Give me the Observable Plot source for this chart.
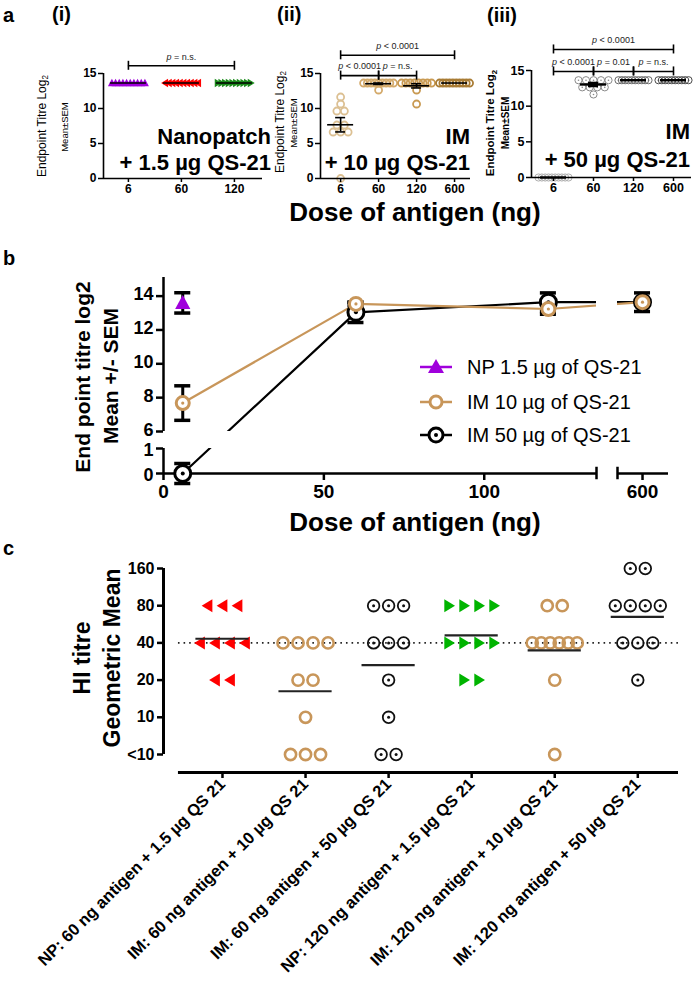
<!DOCTYPE html>
<html><head><meta charset="utf-8">
<script src="https://cdn.jsdelivr.net/npm/d3@7"></script>
<script src="https://cdn.jsdelivr.net/npm/@observablehq/plot@0.6"></script>
<style>
html,body{margin:0;padding:0;background:#fff;}
#root{position:relative;width:697px;height:985px;overflow:hidden;font-family:"Liberation Sans",Arial,Helvetica,sans-serif;color:#000;}
#root svg{position:absolute;left:0;top:0;}
.t{position:absolute;white-space:nowrap;line-height:1;}
sub{font-size:68%;vertical-align:-0.3em;line-height:0;}
</style></head><body><div id="root"></div>
<script>
// ---------------- Panel a data (Endpoint titre log2, individual animals) ----------------
const doseCatsNP = ["6", "60", "120"];
const doseCatsIM = ["6", "60", "120", "600"];
const np_6   = [13.64,13.64,13.64,13.64,13.64,13.64,13.64,13.64,13.64,13.64];
const np_60  = [13.64,13.64,13.64,13.64,13.64,13.64,13.64,13.64,13.64,13.64];
const np_120 = [13.64,13.64,13.64,13.64,13.64,13.64,13.64,13.64,13.64,13.64];
const im10_6   = [11.64,10.64,9.64,9.64,7.64,7.64,6.64,6.64,6.64,0];
const im10_60  = [13.64,13.64,13.64,13.64,13.64,13.64,13.64,13.64,13.64,12.64];
const im10_120 = [13.64,13.64,13.64,13.64,13.64,13.64,13.64,13.64,12.64,10.64];
const im10_600 = [13.64,13.64,13.64,13.64,13.64,13.64,13.64,13.64,13.64,13.64];
const im50_6   = [0,0,0,0,0,0,0,0,0,0];
const im50_60  = [13.64,13.64,13.64,13.64,13.64,12.64,12.64,12.64,12.64,11.64];
const im50_120 = [13.64,13.64,13.64,13.64,13.64,13.64,13.64,13.64,13.64,13.64];
const im50_600 = [13.64,13.64,13.64,13.64,13.64,13.64,13.64,13.64,13.64,13.64];
const pLabels_i   = ["p = n.s."];
const pLabels_ii  = ["p < 0.0001", "p < 0.0001", "p = n.s."];
const pLabels_iii = ["p < 0.0001", "p < 0.0001", "p = 0.01", "p = n.s."];

// ---------------- Panel b data (mean +/- SEM) ----------------
const doseB = [6, 60, 120, 600];
const npDoseB = [6];
const npMeanB = [13.6];
const npSemB = [0.6];
const im10MeanB = [7.68, 13.54, 13.24, 13.64];
const im10SemB  = [1.02, 0.1, 0.31, 0.05];
const im50MeanB = [0, 13.04, 13.64, 13.64];
const im50SemB  = [0.4, 0.6, 0.55, 0.55];
const legendB = ["NP 1.5 \u00b5g of QS-21", "IM 10 \u00b5g of QS-21", "IM 50 \u00b5g of QS-21"];
const xTicksB = [0, 50, 100, 600];
const yTicksBUpper = [6, 8, 10, 12, 14];
const yTicksBLower = [0, 1];

// ---------------- Panel c data (HI titre; 5 = "<10") ----------------
const groupsC = [
  "NP: 60 ng antigen + 1.5 \u00b5g QS 21",
  "IM: 60 ng antigen + 10 \u00b5g QS 21",
  "IM: 60 ng antigen + 50 \u00b5g QS 21",
  "NP: 120 ng antigen + 1.5 \u00b5g QS 21",
  "IM: 120 ng antigen + 10 \u00b5g QS 21",
  "IM: 120 ng antigen + 50 \u00b5g QS 21"
];
const hiTicks = [5, 10, 20, 40, 80, 160];
const hiTickLabels = ["<10", "10", "20", "40", "80", "160"];
const hi_np60    = [80,80,80,40,40,40,40,20,20];
const hi_im10_60 = [40,40,40,40,20,20,10,5,5,5];
const hi_im50_60 = [80,80,80,40,40,40,20,10,5,5];
const hi_np120   = [80,80,80,80,40,40,40,40,20,20];
const hi_im10_120= [80,80,40,40,40,40,40,40,20,5];
const hi_im50_120= [160,160,80,80,80,80,40,40,40,20];
const hiRef = [40];

// ---------------- helpers ----------------
const W = 697, H = 985;
const FONT = '"Liberation Sans", Arial, Helvetica, sans-serif';
const root = document.getElementById("root");
const PURPLE = "#a000dc", RED = "#ff0000", GREEN_A = "#1c8c1c", GREEN_C = "#00b400", TAN = "#c8965a";

const upTri = {draw(c, s) { const r = Math.sqrt(s / Math.PI); c.moveTo(0, -r); c.lineTo(r * 0.95, r * 0.75); c.lineTo(-r * 0.95, r * 0.75); c.closePath(); }};
const leftTri = {draw(c, s) { const r = Math.sqrt(s / Math.PI); c.moveTo(-r * 0.9, 0); c.lineTo(r * 0.75, -r); c.lineTo(r * 0.75, r); c.closePath(); }};
const rightTri = {draw(c, s) { const r = Math.sqrt(s / Math.PI); c.moveTo(r * 0.9, 0); c.lineTo(-r * 0.75, -r); c.lineTo(-r * 0.75, r); c.closePath(); }};

// horizontal spreading of equal values (scatter-dot layout)
function swarm(values, sp, maxW) {
  const out = [];
  for (const [v, arr] of d3.group(values, d => d)) {
    const n = arr.length;
    const s = n > 1 ? Math.min(sp, maxW / (n - 1)) : 0;
    arr.forEach((_, j) => out.push({v, off: (j - (n - 1) / 2) * s}));
  }
  return out;
}

function label(html, x, y, o = {}) {
  const d = document.createElement("div");
  d.className = "t";
  d.innerHTML = html;
  d.style.left = x + "px";
  d.style.top = y + "px";
  d.style.fontSize = (o.size || 12) + "px";
  d.style.fontWeight = o.bold === false ? "normal" : "bold";
  const ax = o.anchor === "end" ? "-100%" : o.anchor === "middle" ? "-50%" : "0";
  d.style.transform = o.rotate ? "translate(-50%,-50%) rotate(-90deg)" : `translate(${ax},-50%)`;
  root.appendChild(d);
  return d;
}

function italicP(svg) {
  d3.select(svg).selectAll("text").each(function () {
    const t = this.textContent;
    if (/^p [<=]/.test(t)) {
      this.textContent = "";
      d3.select(this).append("tspan").attr("font-style", "italic").text("p");
      d3.select(this).append("tspan").text(t.slice(1));
    }
  });
}

const baseStyle = {background: "none", fontFamily: FONT, overflow: "visible"};

// ---------------- Panel a ----------------
function panelA(cfg) {
  const ppu = (cfg.xr[1] - cfg.xr[0]) / (cfg.xd[1] - cfg.xd[0]);
  const yppu = (cfg.yr[0] - cfg.yr[1]) / 15;
  const marks = [];
  const stats = [];
  cfg.series.forEach((s, i) => {
    const pts = swarm(s.values, cfg.sp, cfg.maxW).map(p => ({x: i + p.off / ppu, y: p.v}));
    marks.push(Plot.dot(pts, {x: "x", y: "y", r: cfg.r, symbol: s.symbol || "circle",
      fill: s.fill || "none", stroke: s.stroke || "none", strokeWidth: cfg.sw}));
    if (s.centerDot) marks.push(Plot.dot(pts, {x: "x", y: "y", r: 0.8, fill: s.stroke}));
    const n = s.values.length;
    stats.push({i, m: d3.mean(s.values), sem: d3.deviation(s.values) / Math.sqrt(n)});
  });
  const mh = cfg.meanHalf / ppu, ch = cfg.capHalf / ppu;
  marks.push(Plot.ruleY(stats, {y: "m", x1: d => d.i - mh, x2: d => d.i + mh, strokeWidth: cfg.lw}));
  const withErr = stats.filter(d => d.sem > 0.05);
  marks.push(Plot.ruleX(withErr, {x: "i", y1: d => d.m - d.sem, y2: d => d.m + d.sem, strokeWidth: cfg.lw}));
  marks.push(Plot.ruleY(withErr.flatMap(d => [{i: d.i, y: d.m - d.sem}, {i: d.i, y: d.m + d.sem}]),
    {y: "y", x1: d => d.i - ch, x2: d => d.i + ch, strokeWidth: cfg.lw}));
  const tk = 4.5 / yppu;
  marks.push(Plot.ruleY(cfg.comps, {y: "lev", x1: "a", x2: "b", strokeWidth: 1.6}));
  marks.push(Plot.ruleX(cfg.comps.flatMap(d => [{x: d.a, lev: d.lev}, {x: d.b, lev: d.lev}]),
    {x: "x", y1: d => d.lev - tk, y2: d => d.lev + tk, strokeWidth: 1.6}));
  marks.push(Plot.text(cfg.comps, {x: d => (d.a + d.b) / 2, y: "lev", text: "label", dy: -9, fontSize: 9, fontWeight: "normal", fill: "#222"}));
  marks.push(Plot.ruleX([cfg.xd[0]], {strokeWidth: 1.6}), Plot.ruleY([0], {strokeWidth: 1.6}));
  marks.push(Plot.axisY({ticks: [0, 5, 10, 15], tickSize: 5, tickPadding: 2, fontSize: cfg.fs, fontWeight: "bold", strokeWidth: 1.5, label: null}));
  marks.push(Plot.axisX({ticks: d3.range(cfg.cats.length), tickFormat: i => cfg.cats[i], tickSize: 4, tickPadding: 2,
    fontSize: cfg.fs, fontWeight: "bold", strokeWidth: 1.5, label: null}));
  const svg = Plot.plot({
    width: W, height: H,
    marginLeft: cfg.xr[0], marginRight: W - cfg.xr[1], marginTop: cfg.yr[1], marginBottom: H - cfg.yr[0],
    x: {domain: cfg.xd, label: null}, y: {domain: [0, 15], label: null},
    style: baseStyle, marks
  });
  italicP(svg);
  root.appendChild(svg);
}

panelA({
  cats: doseCatsNP, xr: [103, 262], xd: [-0.47, 2.53], yr: [178, 73],
  r: 4.2, sw: 1, sp: 7.5, maxW: 33, meanHalf: 18, capHalf: 6, lw: 1.6, fs: 12,
  series: [
    {values: np_6, symbol: upTri, fill: PURPLE},
    {values: np_60, symbol: leftTri, fill: RED},
    {values: np_120, symbol: rightTri, fill: GREEN_A}
  ],
  comps: [{a: 0, b: 2, lev: 16.1, label: pLabels_i[0]}]
});

panelA({
  cats: doseCatsIM, xr: [320, 470], xd: [-0.53, 3.42], yr: [178, 73],
  r: 3.5, sw: 1.8, sp: 7.5, maxW: 30, meanHalf: 13, capHalf: 5, lw: 1.6, fs: 12,
  series: [
    {values: im10_6, stroke: "#dcc093"},
    {values: im10_60, stroke: "#d4aa6b"},
    {values: im10_120, stroke: "#c99a52"},
    {values: im10_600, stroke: "#a97c34"}
  ],
  comps: [
    {a: 0, b: 3, lev: 17.6, label: pLabels_ii[0]},
    {a: 0, b: 1, lev: 14.7, label: pLabels_ii[1]},
    {a: 1, b: 2, lev: 14.7, label: pLabels_ii[2]}
  ]
});

panelA({
  cats: doseCatsIM, xr: [531, 691], xd: [-0.55, 3.45], yr: [177, 70],
  r: 3.6, sw: 1, sp: 7.5, maxW: 30, meanHalf: 13, capHalf: 5, lw: 2.4, fs: 12.5,
  series: [
    {values: im50_6, stroke: "#b0b0b0", centerDot: true},
    {values: im50_60, stroke: "#8a8a8a", centerDot: true},
    {values: im50_120, stroke: "#6a6a6a", centerDot: true},
    {values: im50_600, stroke: "#4a4a4a", centerDot: true}
  ],
  comps: [
    {a: 0, b: 3, lev: 17.95, label: pLabels_iii[0]},
    {a: 0, b: 1, lev: 14.87, label: pLabels_iii[1]},
    {a: 1, b: 2, lev: 14.87, label: pLabels_iii[2]},
    {a: 2, b: 3, lev: 14.87, label: pLabels_iii[3]}
  ]
});

// ---------------- Panel b (broken axes via piecewise scales) ----------------
{
  const xB = {domain: [0, 135, 592.2, 608.1], range: [163, 596, 617, 668]};
  const yB = {domain: [0, 1, 6, 15.1], range: [473, 448, 431, 277]};
  const xBreak = [135, 592.2], yBreak = [1, 6];
  const im10 = doseB.map((d, i) => ({x: d, y: im10MeanB[i], s: im10SemB[i]}));
  const im50 = doseB.map((d, i) => ({x: d, y: im50MeanB[i], s: im50SemB[i]}));
  const np = npDoseB.map((d, i) => ({x: d, y: npMeanB[i], s: npSemB[i]}));
  const capH = 8 / 3.2;
  const err = (data, color) => [
    Plot.ruleX(data, {x: "x", y1: d => d.y - d.s, y2: d => d.y + d.s, stroke: color, strokeWidth: 3}),
    Plot.ruleY(data.flatMap(d => [{x: d.x, y: d.y - d.s}, {x: d.x, y: d.y + d.s}]),
      {y: "y", x1: d => d.x - capH, x2: d => d.x + capH, stroke: color, strokeWidth: 3.5})
  ];
  const svg = Plot.plot({
    width: W, height: H, marginLeft: 163, marginRight: W - 668, marginTop: 277, marginBottom: H - 473,
    x: {type: "linear", domain: xB.domain, range: xB.range, label: null},
    y: {type: "linear", domain: yB.domain, range: yB.range, label: null},
    style: baseStyle,
    marks: [
      Plot.line(im50, {x: "x", y: "y", stroke: "#000", strokeWidth: 2.2}),
      Plot.line(im10, {x: "x", y: "y", stroke: TAN, strokeWidth: 2.2}),
      Plot.rect([{x1: xBreak[0], x2: xBreak[1], y1: -1, y2: 15.1}], {x1: "x1", x2: "x2", y1: "y1", y2: "y2", fill: "white"}),
      Plot.rect([{x1: 0, x2: 608.1, y1: yBreak[0], y2: yBreak[1]}], {x1: "x1", x2: "x2", y1: "y1", y2: "y2", fill: "white"}),
      Plot.ruleX([0], {y1: 6, y2: 15.1, strokeWidth: 2.5}),
      Plot.ruleX([0], {y1: 0, y2: 1, strokeWidth: 2.5}),
      Plot.ruleY([0], {x1: 0, x2: xBreak[0], strokeWidth: 2.5}),
      Plot.ruleY([0], {x1: xBreak[1], x2: 608.1, strokeWidth: 2.5}),
      Plot.ruleX(xBreak, {y1: -0.25, y2: 0.25, strokeWidth: 2.5}),
      Plot.axisY({ticks: [...yTicksBLower, ...yTicksBUpper], tickSize: 7, text: null, strokeWidth: 2.5, label: null}),
      Plot.axisY({ticks: yTicksBUpper, tickSize: 0, tickPadding: 10, dy: -1.5, fontSize: 18, fontWeight: "bold", label: null}),
      Plot.axisY({ticks: yTicksBLower, tickSize: 0, tickPadding: 10, dy: 1.5, fontSize: 18, fontWeight: "bold", label: null}),
      Plot.axisX({ticks: xTicksB, tickSize: 7, tickPadding: 4, fontSize: 19, fontWeight: "bold", strokeWidth: 2.5, label: null}),
      ...err(im50, "#000"),
      ...err(im10, "#000"),
      ...err(np, "#000"),
      Plot.dot(im50, {x: "x", y: "y", r: 8, fill: "white", stroke: "#000", strokeWidth: 3}),
      Plot.dot(im50, {x: "x", y: "y", r: 2, fill: "#000"}),
      Plot.dot(im10, {x: "x", y: "y", r: 6.5, fill: "white", stroke: TAN, strokeWidth: 3}),
      Plot.dot(im10, {x: "x", y: "y", r: 1.6, fill: TAN}),
      Plot.dot(np, {x: "x", y: "y", r: 8, symbol: upTri, fill: PURPLE})
    ]
  });
  root.appendChild(svg);
}

// ---------------- Panel c ----------------
{
  const cXd = [-0.71, 5.49];
  const ppu = (678 - 163) / (cXd[1] - cXd[0]);
  const pxPerDoubling = (754 - 568) / 5;
  const baseY = 5 * Math.pow(2, -(772 - 754) / pxPerDoubling);
  const groups = [
    {values: hi_np60, kind: "left"},
    {values: hi_im10_60, kind: "tan"},
    {values: hi_im50_60, kind: "dot"},
    {values: hi_np120, kind: "right"},
    {values: hi_im10_120, kind: "tan"},
    {values: hi_im50_120, kind: "dot"}
  ];
  const marks = [
    Plot.ruleY(hiRef, {x1: -0.53, x2: 5.49, strokeDasharray: "1.6 4", strokeWidth: 1.7, stroke: "#222"})
  ];
  const gm = [];
  groups.forEach((g, i) => {
    const pts = swarm(g.values, 15, 45).map(p => ({x: i + p.off / ppu, y: p.v}));
    if (g.kind === "left") marks.push(Plot.dot(pts, {x: "x", y: "y", r: 6.5, symbol: leftTri, fill: RED}));
    if (g.kind === "right") marks.push(Plot.dot(pts, {x: "x", y: "y", r: 6.5, symbol: rightTri, fill: GREEN_C}));
    if (g.kind === "tan") marks.push(Plot.dot(pts, {x: "x", y: "y", r: 5.6, fill: "none", stroke: TAN, strokeWidth: 2.6}));
    if (g.kind === "dot") marks.push(
      Plot.dot(pts, {x: "x", y: "y", r: 5.8, fill: "none", stroke: "#111", strokeWidth: 1.8}),
      Plot.dot(pts, {x: "x", y: "y", r: 1.5, fill: "#111"}));
    gm.push({i, g: Math.pow(2, d3.mean(g.values, v => Math.log2(v)))});
  });
  marks.push(Plot.ruleY(gm, {y: "g", x1: d => d.i - 0.32, x2: d => d.i + 0.32, strokeWidth: 2.2, stroke: "#222"}));
  marks.push(
    Plot.ruleX([cXd[0]], {y1: 5, y2: 160, strokeWidth: 3}),
    Plot.ruleY([baseY], {x1: -0.53, x2: 5.49, strokeWidth: 3}),
    Plot.axisY({ticks: hiTicks, tickFormat: d => hiTickLabels[hiTicks.indexOf(d)], tickSize: 6, tickPadding: 3,
      fontSize: 16, fontWeight: "bold", strokeWidth: 2.5, label: null}),
    Plot.axisX({ticks: d3.range(groupsC.length), tickFormat: i => groupsC[i], tickRotate: -45, tickSize: 6, tickPadding: 3,
      fontSize: 16.5, fontWeight: "bold", strokeWidth: 2.5, label: null})
  );
  const svg = Plot.plot({
    width: W, height: H, marginLeft: 163, marginRight: W - 678, marginTop: 560, marginBottom: H - 772,
    x: {domain: cXd, label: null},
    y: {type: "log", base: 2, domain: [5, 160], range: [754, 568], label: null},
    style: baseStyle, marks
  });
  root.appendChild(svg);
}

// ---------------- text labels ----------------
label("a", 3, 15, {size: 20});
label("(i)", 52, 14, {size: 20});
label("(ii)", 277, 14, {size: 20});
label("(iii)", 487, 15, {size: 20});
label("Endpoint Titre Log<sub>2</sub>", 42, 126, {size: 12, bold: false, rotate: true});
label("Mean\u00b1SEM", 65, 127, {size: 9.5, bold: false, rotate: true});
label("Endpoint Titre Log<sub>2</sub>", 280, 122, {size: 12, bold: false, rotate: true});
label("Mean\u00b1SEM", 294, 123, {size: 9.5, bold: false, rotate: true});
label("Endpoint Titre Log<sub>2</sub>", 491, 123, {size: 11.5, rotate: true});
label("Mean\u00b1SEM", 506, 123, {size: 10, rotate: true});
label("Nanopatch", 271, 137, {size: 22, anchor: "end"});
label("+ 1.5 \u00b5g QS-21", 271, 163, {size: 22, anchor: "end"});
label("IM", 470, 137, {size: 22, anchor: "end"});
label("+ 10 \u00b5g QS-21", 470, 163, {size: 22, anchor: "end"});
label("IM", 690, 132, {size: 22, anchor: "end"});
label("+ 50 \u00b5g QS-21", 690, 160, {size: 22, anchor: "end"});
label("Dose of antigen (ng)", 415, 212, {size: 26, anchor: "middle"});

label("b", 3, 258, {size: 20});
label("End point titre log2", 82, 377, {size: 21, rotate: true});
label("Mean +/- SEM", 110, 376, {size: 21, rotate: true});
label("Dose of antigen (ng)", 415, 522, {size: 26, anchor: "middle"});

// legend for panel b
{
  const rows = [
    {text: legendB[0], color: PURPLE, kind: "tri"},
    {text: legendB[1], color: TAN, kind: "circ"},
    {text: legendB[2], color: "#000", kind: "dot"}
  ];
  const ys = [367, 402, 435];
  rows.forEach((r, i) => {
    const d = document.createElement("div");
    d.style.cssText = `position:absolute;left:418px;top:${ys[i] - 12}px;width:36px;height:24px;`;
    let sym = "";
    if (r.kind === "tri") sym = `<path d="M18,4 L26,18 L10,18 Z" fill="${r.color}"/>`;
    if (r.kind === "circ") sym = `<circle cx="18" cy="12" r="6" fill="white" stroke="${r.color}" stroke-width="3"/>`;
    if (r.kind === "dot") sym = `<circle cx="18" cy="12" r="7" fill="white" stroke="${r.color}" stroke-width="3"/><circle cx="18" cy="12" r="2" fill="${r.color}"/>`;
    d.innerHTML = `<svg width="36" height="24" style="position:static"><line x1="2" x2="34" y1="12" y2="12" stroke="${r.color}" stroke-width="2.5"/>${sym}</svg>`;
    root.appendChild(d);
    label(r.text, 467, ys[i], {size: 20, bold: false});
  });
}

label("c", 3, 548, {size: 20});
label("HI titre", 82, 658, {size: 23, rotate: true});
label("Geometric Mean", 112, 658, {size: 23, rotate: true});
</script></body></html>
